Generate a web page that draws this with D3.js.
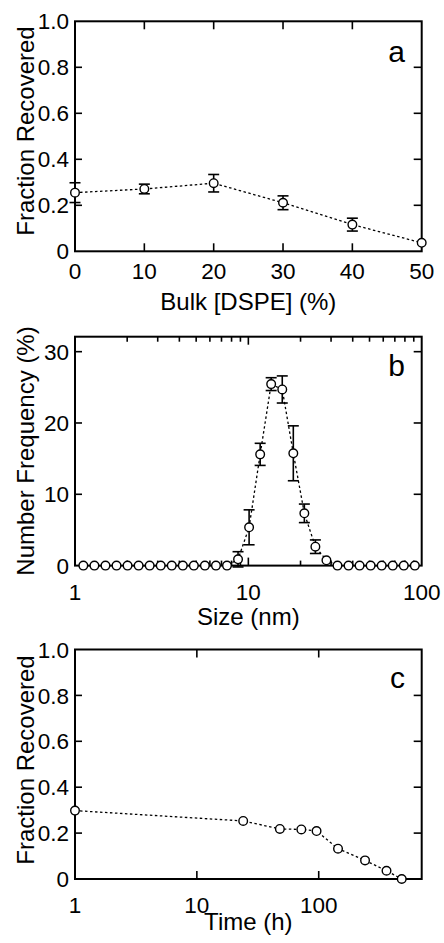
<!DOCTYPE html>
<html><head><meta charset="utf-8">
<script src="https://cdn.jsdelivr.net/npm/d3@7"></script>
<style>
body{margin:0;background:#fff}
svg{display:block}
text{font-family:"Liberation Sans",Arial,Helvetica,sans-serif;fill:#000}
</style>
</head><body>
<svg id="fig" width="444" height="943"></svg>
<script>
// ---- Panel a data ----
const dspePct = [0, 10, 20, 30, 40, 50];
const dspeFrac = [0.255, 0.271, 0.296, 0.211, 0.116, 0.037];
const dspeErr = [0.043, 0.021, 0.038, 0.030, 0.028, 0];
const aXTicks = [0, 10, 20, 30, 40, 50];
const fracTicks = [0, 0.2, 0.4, 0.6, 0.8, 1.0];

// ---- Panel b data ----
const sizeNm = [1.117, 1.294, 1.499, 1.736, 2.01, 2.328, 2.696, 3.122, 3.615, 4.187, 4.849, 5.615, 6.503, 7.531,
  8.721, 10.1, 11.7, 13.54, 15.69, 18.17, 21.04, 24.36, 28.21,
  32.67, 37.84, 43.82, 50.75, 58.77, 68.06, 78.82, 91.28];
const numFreq = [0,0,0,0,0,0,0,0,0,0,0,0,0,0,
  0.88, 5.37, 15.6, 25.45, 24.7, 15.75, 7.33, 2.65, 0.74,
  0,0,0,0,0,0,0,0];
const numFreqErr = [0,0,0,0,0,0,0,0,0,0,0,0,0,0,
  1.07, 2.45, 1.55, 0.9, 1.9, 3.85, 1.3, 0.95, 0,
  0,0,0,0,0,0,0,0];
const bXTicks = [1, 10, 100];
const bYTicks = [0, 10, 20, 30];

// ---- Panel c data ----
const timeH = [1, 24, 48, 72, 96, 144, 240, 360, 480];
const timeFrac = [0.298, 0.253, 0.218, 0.216, 0.209, 0.132, 0.081, 0.036, 0.0];
const cXTicks = [1, 10, 100];

const svg = d3.select("#fig");
const L = 75, R = 421.7;
const TICK = 8, MINOR = 5;
const TICKFONT = 22.5, TITLEFONT = 24;

function drawPanel(cfg) {
  const g = svg.append("g");
  const x = cfg.x, y = cfg.y;
  const top = y.range()[1], bot = y.range()[0];

  g.append("rect").attr("x", L).attr("y", top).attr("width", R - L).attr("height", bot - top)
    .attr("fill", "none").attr("stroke", "#000").attr("stroke-width", 2);

  const xt = g.append("g").attr("stroke", "#000").attr("stroke-width", 1.6);
  cfg.xTickVals.forEach(v => {
    const len = cfg.isMinor && cfg.isMinor(v) ? MINOR : TICK;
    const px = x(v);
    if (px <= L + 1 || px >= R - 1) return;
    xt.append("line").attr("x1", px).attr("x2", px).attr("y1", bot).attr("y2", bot - len);
    xt.append("line").attr("x1", px).attr("x2", px).attr("y1", top).attr("y2", top + len);
  });
  cfg.yTickVals.forEach(v => {
    const py = y(v);
    if (py <= top + 1 || py >= bot - 1) return;
    xt.append("line").attr("x1", L).attr("x2", L + 7).attr("y1", py).attr("y2", py);
    xt.append("line").attr("x1", R).attr("x2", R - TICK).attr("y1", py).attr("y2", py);
  });

  cfg.yTickVals.forEach(v => {
    g.append("text").attr("x", 69).attr("y", y(v)).attr("dy", "0.36em")
      .attr("text-anchor", "end").attr("font-size", TICKFONT).text(cfg.fmtY(v));
  });
  cfg.xLabelVals.forEach(v => {
    g.append("text").attr("x", x(v)).attr("y", cfg.xLabelBase)
      .attr("text-anchor", "middle").attr("font-size", TICKFONT).text(String(v));
  });

  g.append("text").attr("x", (L + R) / 2).attr("y", cfg.xTitleBase)
    .attr("text-anchor", "middle").attr("font-size", TITLEFONT).text(cfg.xTitle);
  g.append("text").attr("transform", `translate(34,${cfg.yTitleY}) rotate(-90)`)
    .attr("text-anchor", "middle").attr("font-size", TITLEFONT).text(cfg.yTitle);

  g.append("text").attr("x", 405).attr("y", cfg.letterBase)
    .attr("text-anchor", "end").attr("font-size", 30).text(cfg.letter);

  const pts = cfg.xs.map((d, i) => [d, cfg.ys[i], cfg.es ? cfg.es[i] : 0]);
  g.append("path").datum(pts)
    .attr("d", d3.line().x(d => x(d[0])).y(d => y(d[1])))
    .attr("fill", "none").attr("stroke", "#000").attr("stroke-width", 1.3)
    .attr("stroke-dasharray", "2.5,2.5");

  const eb = g.append("g").attr("stroke", "#000").attr("stroke-width", 1.6);
  pts.filter(d => d[2] > 0).forEach(d => {
    const px = x(d[0]), y1 = y(d[1] + d[2]), y0 = y(d[1] - d[2]);
    eb.append("line").attr("x1", px).attr("x2", px).attr("y1", y0).attr("y2", y1);
    eb.append("line").attr("x1", px - 5.5).attr("x2", px + 5.5).attr("y1", y1).attr("y2", y1);
    eb.append("line").attr("x1", px - 5.5).attr("x2", px + 5.5).attr("y1", y0).attr("y2", y0);
  });

  g.append("g").selectAll("circle").data(pts).join("circle")
    .attr("cx", d => x(d[0])).attr("cy", d => y(d[1])).attr("r", 4.3)
    .attr("fill", "#fff").attr("stroke", "#000").attr("stroke-width", 1.4);
}

const fmtFrac = v => v === 0 ? "0" : d3.format(".1f")(v);

drawPanel({
  x: d3.scaleLinear().domain([0, 50]).range([L, R]),
  y: d3.scaleLinear().domain([0, 1]).range([251.3, 21.3]),
  xTickVals: aXTicks, xLabelVals: aXTicks, yTickVals: fracTicks, fmtY: fmtFrac,
  xLabelBase: 279, xTitle: "Bulk [DSPE] (%)", xTitleBase: 309.5,
  yTitle: "Fraction Recovered", yTitleY: 131,
  letter: "a", letterBase: 62,
  xs: dspePct, ys: dspeFrac, es: dspeErr
});

const bx = d3.scaleLog().domain([1, 100]).range([L, R]);
drawPanel({
  x: bx,
  y: d3.scaleLinear().domain([0, 32.1]).range([565.6, 336.7]),
  xTickVals: bx.ticks(), isMinor: v => ![1, 10, 100].includes(v),
  xLabelVals: bXTicks, yTickVals: bYTicks, fmtY: v => String(v),
  xLabelBase: 600, xTitle: "Size (nm)", xTitleBase: 625,
  yTitle: "Number Frequency (%)", yTitleY: 451,
  letter: "b", letterBase: 376,
  xs: sizeNm, ys: numFreq, es: numFreqErr
});

drawPanel({
  x: d3.scaleLog().domain([1, 700]).range([L, R]),
  y: d3.scaleLinear().domain([0, 1]).range([879, 649.5]),
  xTickVals: cXTicks, xLabelVals: cXTicks, yTickVals: fracTicks, fmtY: fmtFrac,
  xLabelBase: 913, xTitle: "Time (h)", xTitleBase: 929.5,
  yTitle: "Fraction Recovered", yTitleY: 760,
  letter: "c", letterBase: 688,
  xs: timeH, ys: timeFrac, es: null
});
</script>
</body></html>
